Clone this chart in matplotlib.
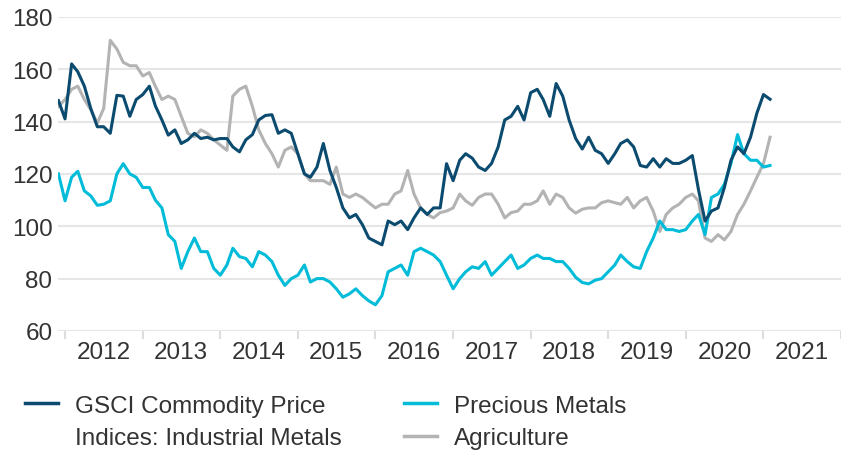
import numpy as np
import pandas as pd
import matplotlib
matplotlib.use("Agg")
import matplotlib.pyplot as plt
import matplotlib.dates as mdates
from matplotlib.lines import Line2D

plt.rcParams['font.family'] = ['Liberation Sans', 'DejaVu Sans']

# Valores mensuales (dic 2011 - feb 2021)
fechas = pd.date_range('2011-12-01', periods=111, freq='MS')

industrial = [148, 141, 162, 159, 153.5, 145, 138, 138, 135.5, 150, 149.7, 142, 148.4, 150.3, 153.5, 146,
              140.6, 134.8, 136.8, 131.6, 133, 135.5, 133.5, 134, 133, 133.5, 133.5, 130.3, 128.4, 133, 135, 140.6, 142.3,
              142.6, 135.5, 136.8, 135.5, 127.7, 120, 118.7, 122.6, 131.6, 121.3, 114.8, 107, 103.2, 104.5, 100.6, 95.5,
              94.2, 92.9, 102, 100.6, 102, 98.7, 103.2, 107, 104.5, 107, 107, 123.9, 117.4, 125.2, 127.7, 126,
              122.6, 121.3, 124, 130.3, 140.6, 142, 145.8, 140.6, 151, 152.3, 148.4, 142, 154.5, 149.7, 140.6, 133.5,
              129.5, 134, 129, 127.7, 124, 127.7, 131.6, 133, 130.3, 123.2, 122.6, 125.8, 122.6, 125.8, 124, 124, 125.2,
              127, 114, 102, 105.8, 107, 114.8, 125.2, 130.3, 127.7, 134, 143.2, 150.3, 148.5]

preciosos = [120, 109.7, 118.7, 121, 113.5, 111.6, 108, 108.4, 109.7, 120, 123.9, 120, 118.7, 114.8, 114.8, 110,
             107, 96.8, 94.2, 83.9, 90.3, 95.5, 90.3, 90.3, 83.9, 81.3, 85.2, 91.6, 88.4, 87.7, 84.5, 90.3, 89,
             86.5, 81.3, 77.4, 80, 81.3, 85.2, 78.7, 80, 80, 78.7, 76.1, 72.9, 74.2, 76.1, 73.5, 71.5,
             70, 73.5, 82.6, 83.9, 85.2, 81.3, 90.3, 91.6, 90.3, 89, 86.5, 81.3, 76.1, 80, 82.6, 84.5,
             83.9, 86.5, 81.3, 83.9, 86.5, 89, 83.9, 85.2, 87.7, 89, 87.7, 87.7, 86.5, 86.5, 83.9, 80.5,
             78.5, 78, 79.4, 80, 82.6, 85.2, 89, 86.5, 84.5, 83.9, 90.3, 95.5, 102, 98.7, 98.7, 98, 98.7,
             102, 104.5, 96.8, 111, 112.3, 116, 124, 135, 127.7, 125.2, 125.2, 122.6, 123.2]

agricultura = [145.8, 148.4, 152.3, 153.5, 148.4, 144.5, 139.4, 145, 171, 167.7, 162.6, 161.3, 161.3, 157.4, 158.7, 153.5,
               148.4, 149.7, 148.4, 142, 135.5, 134.2, 136.8, 135.5, 133, 131, 129, 149.7, 152.3, 153.5, 145.8, 136.8, 131.6,
               127.7, 122.6, 129, 130.3, 127.7, 120, 117.4, 117.4, 117.4, 116, 122.6, 112.3, 111, 112.3, 111, 109,
               107, 108.4, 108.4, 112.3, 113.5, 121.3, 112.3, 107, 104.5, 103.2, 105.2, 105.8, 107, 112.3, 109.7, 108,
               111, 112.3, 112.3, 108.4, 103.2, 105.2, 105.8, 108.4, 108.4, 109.7, 113.5, 108.4, 112.3, 111, 107, 105,
               106.5, 107, 107, 109, 109.7, 109, 108.4, 111, 107, 109.7, 111, 105.8, 98, 104.5, 107, 108.4, 111,
               112.3, 109.7, 95.5, 94.2, 96.8, 94.8, 98, 104.5, 108.4, 113.5, 118.7, 123.9, 134]

color_ind = '#0b4b6f'
color_pre = '#00bcd8'
color_agr = '#b3b3b3'
fs = 17.5

fig = plt.figure(figsize=(8.41, 4.56), dpi=100)
ax = fig.add_axes([0.069, 0.272, 0.931, 0.689])

ax.plot(fechas, agricultura, color=color_agr, lw=2.2, solid_joinstyle='round')
ax.plot(fechas, preciosos, color=color_pre, lw=2.2, solid_joinstyle='round')
ax.plot(fechas, industrial, color=color_ind, lw=2.2, solid_joinstyle='round')

ax.set_ylim(60, 180)
ax.set_yticks(np.arange(60, 181, 20))
ax.set_xlim(pd.Timestamp('2011-11-29'), pd.Timestamp('2022-01-01'))

# ticks en el cambio de año, etiquetas a mitad de año
ax.xaxis.set_major_locator(mdates.YearLocator())
ax.xaxis.set_major_formatter(plt.NullFormatter())
ax.xaxis.set_minor_locator(mdates.MonthLocator(bymonth=7, bymonthday=1))
ax.xaxis.set_minor_formatter(mdates.DateFormatter('%Y'))
ax.tick_params(axis='x', which='major', length=6, width=1.5, color='#dddddd')
ax.tick_params(axis='x', which='minor', length=0, pad=7, labelsize=fs, labelcolor='#333333')
ax.tick_params(axis='y', length=0, pad=4, labelsize=fs, labelcolor='#333333')

ax.grid(axis='y', color='#e6e6e6', lw=1.5)
ax.set_axisbelow(True)
for s in ax.spines.values():
    s.set_visible(False)

# leyenda en dos bloques
h1 = [Line2D([], [], color=color_ind, lw=2.5), Line2D([], [], color='none')]
l1 = ['GSCI Commodity Price', 'Indices: Industrial Metals']
h2 = [Line2D([], [], color=color_pre, lw=2.5), Line2D([], [], color=color_agr, lw=2.5)]
l2 = ['Precious Metals', 'Agriculture']
kw = dict(loc='upper left', frameon=False, fontsize=17.5, labelcolor='#333333', handlelength=1.34,
          handletextpad=0.72, labelspacing=0.42, borderpad=0, borderaxespad=0)
fig.legend(h1, l1, bbox_to_anchor=(25 / 841, 0.132), **kw)
fig.legend(h2, l2, bbox_to_anchor=(404 / 841, 0.132), **kw)

fig.savefig('out.png', dpi=100)
